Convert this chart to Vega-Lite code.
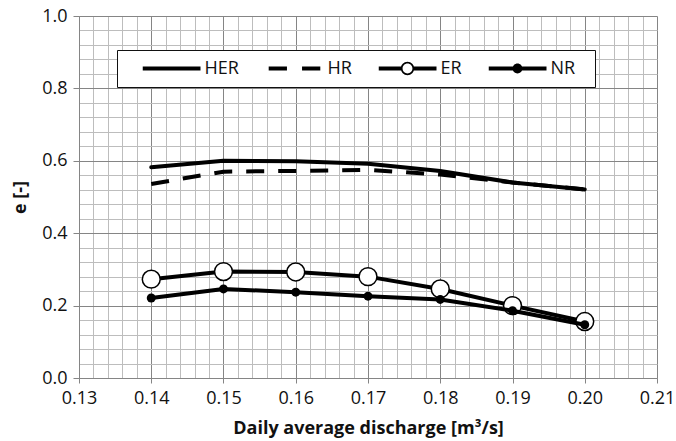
{
  "$schema": "https://vega.github.io/schema/vega-lite/v6.json",
  "autosize": "none",
  "width": 578,
  "height": 362,
  "padding": {"left": 79, "top": 16, "right": 19, "bottom": 63},
  "background": "white",
  "data": {
    "values": [
      {"q": 0.14, "e": 0.582, "series": "HER"},
      {"q": 0.15, "e": 0.600, "series": "HER"},
      {"q": 0.16, "e": 0.599, "series": "HER"},
      {"q": 0.17, "e": 0.592, "series": "HER"},
      {"q": 0.18, "e": 0.572, "series": "HER"},
      {"q": 0.19, "e": 0.540, "series": "HER"},
      {"q": 0.20, "e": 0.521, "series": "HER"},
      {"q": 0.14, "e": 0.536, "series": "HR"},
      {"q": 0.15, "e": 0.570, "series": "HR"},
      {"q": 0.16, "e": 0.572, "series": "HR"},
      {"q": 0.17, "e": 0.575, "series": "HR"},
      {"q": 0.18, "e": 0.562, "series": "HR"},
      {"q": 0.19, "e": 0.540, "series": "HR"},
      {"q": 0.20, "e": 0.521, "series": "HR"},
      {"q": 0.14, "e": 0.273, "series": "ER"},
      {"q": 0.15, "e": 0.294, "series": "ER"},
      {"q": 0.16, "e": 0.293, "series": "ER"},
      {"q": 0.17, "e": 0.280, "series": "ER"},
      {"q": 0.18, "e": 0.246, "series": "ER"},
      {"q": 0.19, "e": 0.200, "series": "ER"},
      {"q": 0.20, "e": 0.156, "series": "ER"},
      {"q": 0.14, "e": 0.221, "series": "NR"},
      {"q": 0.15, "e": 0.246, "series": "NR"},
      {"q": 0.16, "e": 0.237, "series": "NR"},
      {"q": 0.17, "e": 0.226, "series": "NR"},
      {"q": 0.18, "e": 0.217, "series": "NR"},
      {"q": 0.19, "e": 0.186, "series": "NR"},
      {"q": 0.20, "e": 0.147, "series": "NR"}
    ]
  },
  "encoding": {
    "x": {
      "field": "q",
      "type": "quantitative",
      "scale": {"domain": [0.13, 0.21], "nice": false, "zero": false},
      "axis": {
        "title": "Daily average discharge [m³/s]",
        "values": [0.13, 0.132, 0.134, 0.136, 0.138, 0.14, 0.142, 0.144, 0.146, 0.148, 0.15, 0.152, 0.154, 0.156, 0.158, 0.16, 0.162, 0.164, 0.166, 0.168, 0.17, 0.172, 0.174, 0.176, 0.178, 0.18, 0.182, 0.184, 0.186, 0.188, 0.19, 0.192, 0.194, 0.196, 0.198, 0.2, 0.202, 0.204, 0.206, 0.208, 0.21],
        "labelExpr": "abs(datum.value * 100 - round(datum.value * 100)) < 0.001 ? format(datum.value, '.2f') : ''",
        "gridColor": {"condition": {"test": "abs(datum.value * 100 - round(datum.value * 100)) < 0.001", "value": "#858585"}, "value": "#bdbdbd"},
        "tickOpacity": {"condition": {"test": "abs(datum.value * 100 - round(datum.value * 100)) < 0.001", "value": 1}, "value": 0},
        "tickSize": 5,
        "labelPadding": 6,
        "titlePadding": 12
      }
    },
    "y": {
      "field": "e",
      "type": "quantitative",
      "scale": {"domain": [0, 1], "nice": false},
      "axis": {
        "title": "e [-]",
        "values": [0, 0.04, 0.08, 0.12, 0.16, 0.2, 0.24, 0.28, 0.32, 0.36, 0.4, 0.44, 0.48, 0.52, 0.56, 0.6, 0.64, 0.68, 0.72, 0.76, 0.8, 0.84, 0.88, 0.92, 0.96, 1],
        "labelExpr": "abs(datum.value * 5 - round(datum.value * 5)) < 0.001 ? format(datum.value, '.1f') : ''",
        "gridColor": {"condition": {"test": "abs(datum.value * 5 - round(datum.value * 5)) < 0.001", "value": "#858585"}, "value": "#bdbdbd"},
        "tickOpacity": {"condition": {"test": "abs(datum.value * 5 - round(datum.value * 5)) < 0.001", "value": 1}, "value": 0},
        "tickSize": 6,
        "labelPadding": 6,
        "titlePadding": 12
      }
    }
  },
  "layer": [
    {
      "transform": [{"filter": "datum.series == 'HER'"}],
      "mark": {"type": "line", "color": "black", "strokeWidth": 4, "strokeJoin": "round", "strokeCap": "round"}
    },
    {
      "transform": [{"filter": "datum.series == 'HR'"}],
      "mark": {"type": "line", "color": "black", "strokeWidth": 4, "strokeDash": [18, 14], "strokeJoin": "round"}
    },
    {
      "transform": [{"filter": "datum.series == 'ER'"}],
      "mark": {"type": "line", "color": "black", "strokeWidth": 4, "strokeJoin": "round", "strokeCap": "round"}
    },
    {
      "transform": [{"filter": "datum.series == 'ER'"}],
      "mark": {"type": "point", "shape": "circle", "filled": true, "fill": "white", "stroke": "black", "strokeWidth": 1.5, "size": 320, "opacity": 1}
    },
    {
      "transform": [{"filter": "datum.series == 'NR'"}],
      "mark": {"type": "line", "color": "black", "strokeWidth": 4, "strokeJoin": "round", "strokeCap": "round"}
    },
    {
      "transform": [{"filter": "datum.series == 'NR'"}],
      "mark": {"type": "point", "shape": "circle", "filled": true, "color": "black", "size": 80, "opacity": 1}
    },
    {
      "mark": {"type": "point", "filled": true, "color": "black", "opacity": 0, "strokeWidth": 0},
      "encoding": {
        "shape": {
          "field": "series",
          "type": "nominal",
          "scale": {
            "domain": ["HER", "HR", "ER", "NR"],
            "range": [
              "M-1,-0.07H1V0.07H-1Z",
              "M-0.89,-0.07H-0.26V0.07H-0.89Z M0.26,-0.07H0.89V0.07H0.26Z",
              "M-1,-0.07H-0.2V0.07H-1Z M0.2,-0.07H1V0.07H0.2Z M0.23,0A0.23 0.23 0 1 1 -0.23 0A0.23 0.23 0 1 1 0.23 0Z M0.17,0A0.17 0.17 0 1 0 -0.17 0A0.17 0.17 0 1 0 0.17 0Z",
              "M-1,-0.07H1V0.07H-1Z M0.17,0A0.17 0.17 0 1 1 -0.17 0A0.17 0.17 0 1 1 0.17 0Z"
            ]
          },
          "legend": {
            "orient": "none",
            "legendX": 38,
            "legendY": 34,
            "direction": "horizontal",
            "columns": 4,
            "title": " ",
            "titleOrient": "left",
            "titleFont": "Open Sans",
            "titleFontSize": 18,
            "titlePadding": 16,
            "symbolSize": 3364,
            "symbolStrokeWidth": 0,
            "symbolOpacity": 1,
            "symbolFillColor": "black",
            "clipHeight": 18,
            "labelExpr": "datum.label == 'NR' ? 'NR\u00a0\u00a0\u200b' : datum.label",
            "labelFont": "Open Sans",
            "labelFontSize": 18,
            "labelColor": "#111111",
            "labelOffset": 4,
            "labelLimit": 0,
            "columnPadding": 26,
            "padding": 9.5,
            "strokeColor": "#111111",
            "fillColor": "white",
            "encode": {"legend": {"update": {"strokeWidth": {"value": 1.5}}}}
          }
        }
      }
    }
  ],
  "config": {
    "view": {"stroke": null},
    "axis": {
      "grid": true,
      "gridWidth": 1,
      "domainColor": "#858585",
      "domainWidth": 1,
      "tickColor": "#858585",
      "tickWidth": 1,
      "labelFont": "Open Sans",
      "labelFontSize": 18,
      "labelColor": "#111111",
      "labelOverlap": false,
      "labelFlush": false,
      "titleFont": "Open Sans",
      "titleFontSize": 18,
      "titleFontWeight": "bold",
      "titleColor": "#111111"
    }
  }
}
